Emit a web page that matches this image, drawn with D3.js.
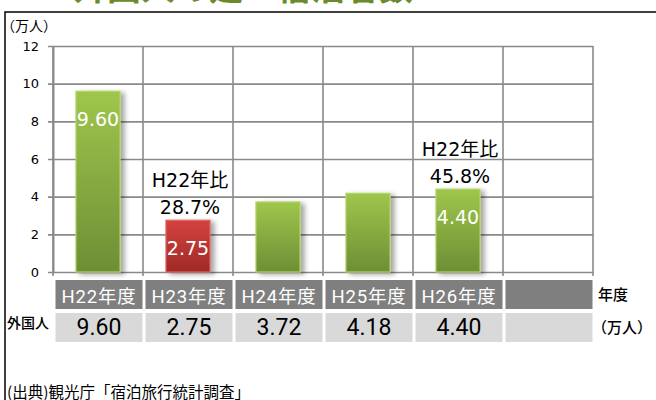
<!DOCTYPE html>
<html><head><meta charset="utf-8">
<script src="https://cdn.jsdelivr.net/npm/d3@7"></script>
<style>
html,body{margin:0;padding:0;background:#fff;overflow:hidden}
svg{display:block}
</style></head>
<body>
<svg id="chart" width="656" height="400"></svg>
<script>
const categories = ["H22年度","H23年度","H24年度","H25年度","H26年度",""];
const values = [9.60, 2.75, 3.72, 4.18, 4.40, null];
const tableValues = ["9.60","2.75","3.72","4.18","4.40",""];
const insideLabels = ["9.60","2.75","","","4.40",""];
const highlight = ["H23年度"];
const annotations = [
  {cat:"H23年度", line1:"H22年比", line2:"28.7%"},
  {cat:"H26年度", line1:"H22年比", line2:"45.8%"}
];
const yTicks = [0,2,4,6,8,10,12];
const titleText = "４．外国人の延べ宿泊者数";
const yUnit = "（万人）";
const rowLabelLeft = "外国人";
const rowLabelHeader = "年度";
const rowLabelUnit = "（万人）";
const sourceText = "(出典)観光庁「宿泊旅行統計調査」";

(function(){
const svg = d3.select("#chart");
const pL = 53, pR = 593, pT = 46, pB = 272;
const cjk = "'Noto Sans CJK JP'";

const defs = svg.append("defs");
function grad(id, c1, c2){
  const g = defs.append("linearGradient").attr("id", id).attr("x1",0).attr("y1",0).attr("x2",0).attr("y2",1);
  g.append("stop").attr("offset","0%").attr("stop-color",c1);
  g.append("stop").attr("offset","100%").attr("stop-color",c2);
}
grad("gGreen", "#9fc64c", "#6e8e35");
grad("gRed", "#d3433f", "#a02926");
const f = defs.append("filter").attr("id","shadow").attr("x","-20%").attr("y","-20%").attr("width","160%").attr("height","140%");
f.append("feDropShadow").attr("dx",4).attr("dy",2).attr("stdDeviation",2.5).attr("flood-color","#000").attr("flood-opacity",0.35);

// Title (cut off at top, as in the reference)
svg.append("text").attr("x",5).attr("y",0).attr("font-family",cjk).attr("font-size",34)
  .attr("font-weight","bold").attr("fill","#6a8a2c").text(titleText);

// Frame
svg.append("rect").attr("x",5).attr("y",12).attr("width",800).attr("height",600)
  .attr("fill","none").attr("stroke","#000").attr("stroke-width",1.5);

const y = d3.scaleLinear().domain([0,12]).range([pB, pT]);
const col = d3.scaleBand().domain(categories).range([pL, pR]).padding(0);
const x = d3.scaleBand().domain(categories).range([pL, pR]).paddingInner(0.51).paddingOuter(0.255);

// Horizontal grid + y axis
const yAxis = d3.axisLeft(y).tickValues(yTicks).tickSize(-(pR-pL)).tickSizeOuter(0).tickPadding(14);
const gy = svg.append("g").attr("transform",`translate(${pL},0)`).call(yAxis);
gy.select(".domain").attr("stroke","#8a8a8a").attr("stroke-width",2);
gy.selectAll(".tick line").attr("stroke","#8a8a8a").attr("stroke-width",1.6).attr("x1",-5);
gy.selectAll(".tick text").attr("font-family","'DejaVu Sans'").attr("font-size",13).attr("fill","#000");

// Vertical grid lines
const vx = categories.map(c => col(c)).concat([pR]);
svg.append("g").selectAll("line").data(vx).join("line")
  .attr("x1",d=>d).attr("x2",d=>d).attr("y1",pT).attr("y2",pB+4)
  .attr("stroke","#8a8a8a").attr("stroke-width",1.6);

// Bars
const barData = categories.map((c,i)=>({c, v:values[i], lab:insideLabels[i]})).filter(d=>d.v!=null);
svg.append("g").selectAll("rect").data(barData).join("rect")
  .attr("x",d=>x(d.c)).attr("width",x.bandwidth())
  .attr("y",d=>y(d.v)).attr("height",d=>y(0)-y(d.v))
  .attr("fill",d=>highlight.includes(d.c)?"url(#gRed)":"url(#gGreen)")
  .attr("stroke",d=>highlight.includes(d.c)?"#e26a66":"#b3d66a").attr("stroke-width",1.2)
  .attr("filter","url(#shadow)");

// Inside labels
svg.append("g").selectAll("text").data(barData.filter(d=>d.lab)).join("text")
  .attr("x",d=>x(d.c)+x.bandwidth()/2).attr("y",d=>y(d.v)+35)
  .attr("text-anchor","middle").attr("font-family","'DejaVu Sans'").attr("font-size",19)
  .attr("fill","#fff").text(d=>d.lab);

// Annotations
annotations.forEach(a=>{
  const v = values[categories.indexOf(a.cat)];
  const cx = x(a.cat)+x.bandwidth()/2+2;
  svg.append("text").attr("x",cx).attr("y",y(v)-33).attr("text-anchor","middle")
    .attr("font-family","'DejaVu Sans', "+cjk).attr("font-size",19).attr("fill","#000").text(a.line1);
  svg.append("text").attr("x",cx).attr("y",y(v)-6).attr("text-anchor","middle")
    .attr("font-family","'DejaVu Sans', "+cjk).attr("font-size",19).attr("fill","#000").text(a.line2);
});

// Y unit
svg.append("text").attr("x",1).attr("y",31).attr("font-family",cjk).attr("font-size",14)
  .attr("fill","#000").text(yUnit);

// Table
const hdrY = 280, rowH = 29, valY = 313;
const tbl = svg.append("g");
tbl.selectAll("rect.h").data(categories).join("rect").attr("class","h")
  .attr("x",d=>col(d)+2.5).attr("y",hdrY).attr("width",col.bandwidth()-3).attr("height",rowH).attr("fill","#7f7f7f");
tbl.selectAll("text.h").data(categories).join("text").attr("class","h")
  .attr("x",d=>col(d)+col.bandwidth()/2+1).attr("y",hdrY+23).attr("text-anchor","middle")
  .attr("font-family","Roboto, "+cjk).attr("font-size",18.5).attr("letter-spacing",0.8).attr("fill","#fff").text(d=>d);
tbl.selectAll("rect.v").data(categories).join("rect").attr("class","v")
  .attr("x",d=>col(d)+2.5).attr("y",valY).attr("width",col.bandwidth()-3).attr("height",rowH).attr("fill","#d9d9d9");
tbl.selectAll("text.v").data(categories.map((c,i)=>({c,t:tableValues[i]}))).join("text").attr("class","v")
  .attr("x",d=>col(d.c)+col.bandwidth()/2+1).attr("y",valY+22).attr("text-anchor","middle")
  .attr("font-family","Roboto").attr("font-size",23).attr("fill","#000").text(d=>d.t);

svg.append("text").attr("x",7).attr("y",328).attr("font-family",cjk).attr("font-size",14)
  .attr("font-weight","500").attr("fill","#000").text(rowLabelLeft);
svg.append("text").attr("x",598).attr("y",300).attr("font-family",cjk).attr("font-size",15)
  .attr("font-weight","500").attr("fill","#000").text(rowLabelHeader);
svg.append("text").attr("x",592).attr("y",333).attr("font-family",cjk).attr("font-size",15)
  .attr("font-weight","500").attr("fill","#000").text(rowLabelUnit);

// Source (cut at bottom edge, as in the reference)
svg.append("text").attr("x",7).attr("y",398).attr("font-family",cjk).attr("font-size",15.5)
  .attr("fill","#000").text(sourceText);
})();
</script>
</body></html>
